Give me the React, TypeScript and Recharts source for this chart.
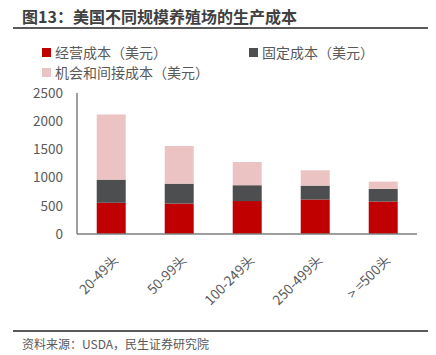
import { Bar, BarChart, XAxis, YAxis } from "recharts";

const categories = ["20-49头", "50-99头", "100-249头", "250-499头", "> =500头"];
const operatingCost = [553, 540, 583, 611, 576];
const fixedCost = [411, 353, 282, 247, 224];
const opportunityCost = [1155, 666, 411, 272, 129];
const yTicks = [0, 500, 1000, 1500, 2000, 2500];

const data = categories.map((name, i) => ({
  name,
  operating: operatingCost[i],
  fixed: fixedCost[i],
  opportunity: opportunityCost[i],
}));

const FONT = "'Noto Sans CJK SC', 'Noto Sans', sans-serif";
const RED = "#c00000";
const DARK = "#4d4e50";
const PINK = "#ebc3c3";

function RotatedTick({ x, y, payload }: any) {
  return (
    <text
      x={x + 4}
      y={y + 15}
      transform={`rotate(-45, ${x + 4}, ${y + 15})`}
      textAnchor="end"
      dominantBaseline="central"
      fontSize={13.5}
      fill="#595959"
      fontFamily={FONT}
    >
      {payload.value}
    </text>
  );
}

function LegendItem({ color, label, left, top }: { color: string; label: string; left: number; top: number }) {
  return (
    <div style={{ position: "absolute", left, top, display: "flex", alignItems: "center", height: 18 }}>
      <span style={{ width: 9, height: 9, background: color, display: "inline-block", marginRight: 4 }} />
      <span style={{ fontSize: 14, color: "#595959", whiteSpace: "nowrap" }}>{label}</span>
    </div>
  );
}

export default function App() {
  return (
    <div style={{ position: "fixed", left: 0, top: 0, width: 436, height: 355, background: "#fff", fontFamily: FONT }}>
      <div style={{ position: "absolute", left: 22, top: 4, fontSize: 16, fontWeight: 700, color: "#404040", whiteSpace: "nowrap" }}>
        图13：美国不同规模养殖场的生产成本
      </div>
      <div style={{ position: "absolute", left: 13, top: 27, width: 415, height: 2, background: "#595959" }} />

      <LegendItem color={RED} label="经营成本（美元）" left={42} top={43} />
      <LegendItem color={DARK} label="固定成本（美元）" left={249} top={43} />
      <LegendItem color={PINK} label="机会和间接成本（美元）" left={42} top={63} />

      <div style={{ position: "absolute", left: 0, top: 0 }}>
        <BarChart
          width={436}
          height={355}
          data={data}
          margin={{ top: 93, right: 19, bottom: 0, left: 17 }}
          barCategoryGap="29%"
        >
          <XAxis
            dataKey="name"
            tick={<RotatedTick />}
            tickLine={false}
            axisLine={{ stroke: "#7f7f7f", strokeWidth: 1.5 }}
            interval={0}
            height={121}
          />
          <YAxis
            width={60}
            domain={[0, 2500]}
            ticks={yTicks}
            tickLine={false}
            tickSize={0}
            tickMargin={14}
            axisLine={{ stroke: "#7f7f7f", strokeWidth: 1.5 }}
            tick={{ fontSize: 13.5, fill: "#595959", fontFamily: FONT }}
          />
          <Bar dataKey="operating" stackId="a" fill={RED} isAnimationActive={false} />
          <Bar dataKey="fixed" stackId="a" fill={DARK} isAnimationActive={false} />
          <Bar dataKey="opportunity" stackId="a" fill={PINK} isAnimationActive={false} />
        </BarChart>
      </div>

      <div style={{ position: "absolute", left: 13, top: 330, width: 415, height: 1.5, background: "#595959" }} />
      <div style={{ position: "absolute", left: 22, top: 335, fontSize: 12, color: "#595959", whiteSpace: "nowrap" }}>
        资料来源：USDA，民生证券研究院
      </div>
    </div>
  );
}
